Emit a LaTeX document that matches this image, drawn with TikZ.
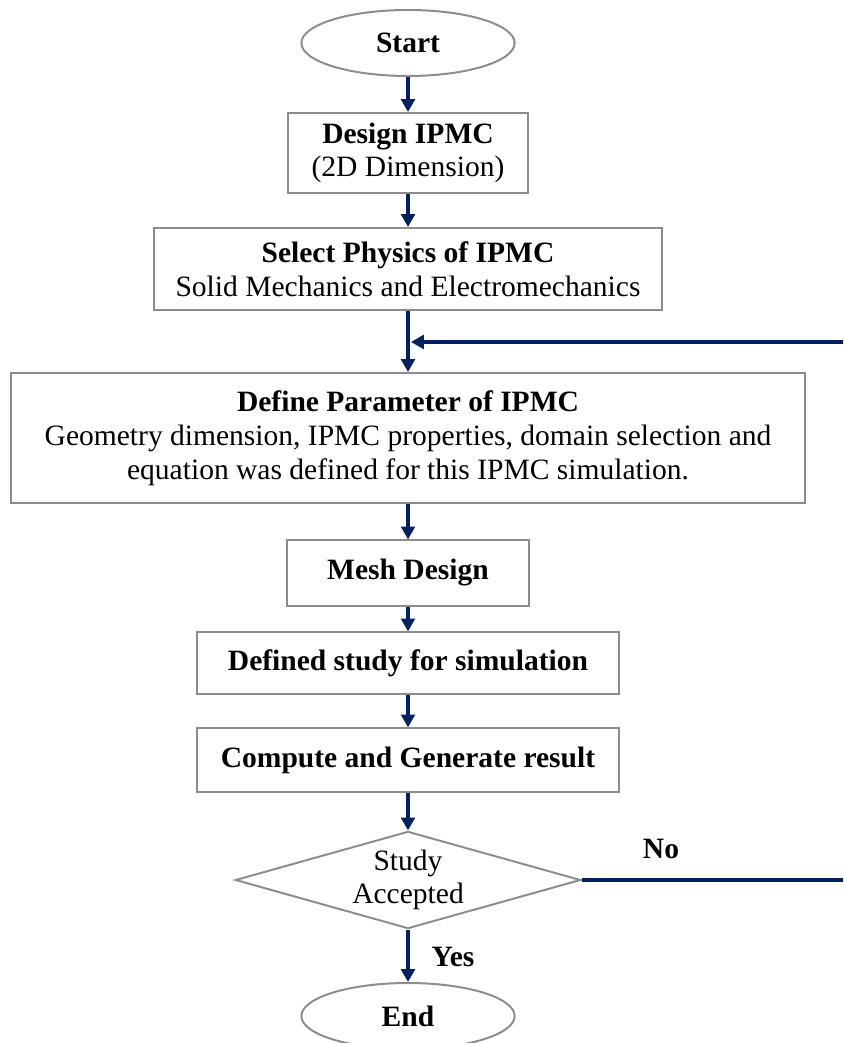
\documentclass[tikz,border=0pt]{standalone}
\usepackage{fontspec}
\setmainfont{Liberation Serif}
\usepackage{xcolor}
\usetikzlibrary{arrows.meta,positioning,shapes.geometric}
\definecolor{flownavy}{HTML}{002060}
\definecolor{framegray}{HTML}{8C8C8C}
\newcommand{\chartfont}{\fontsize{21}{24}\selectfont}

\begin{document}
\begin{tikzpicture}[
    x=0.025cm,y=-0.025cm,
    >={Triangle[length=3.2mm,width=3.4mm]},
    flow/.style={->,line width=2.3pt,draw=flownavy},
    terminal/.style={ellipse,draw=framegray,line width=1.4pt,
      minimum width=5.33cm,minimum height=1.65cm,inner sep=0pt,
      font=\chartfont\bfseries},
    process/.style={draw=framegray,line width=1.4pt,inner sep=0pt,
      align=center,font=\chartfont},
    decision/.style={diamond,draw=framegray,line width=1.4pt,aspect=3.56,
      inner sep=0pt,minimum width=8.63cm,minimum height=2.43cm,
      align=center,font=\chartfont},
    answer/.style={font=\chartfont\bfseries}
  ]
    \useasboundingbox (0,0) rectangle (843,1043);
    \clip (0,0) rectangle (843,1043);

    % Set-up of the IPMC model.
    \node[terminal] (start) at (408,43) {Start};
    \node[process,minimum width=6cm,minimum height=2cm] (design) at (408,153)
      {\textbf{Design IPMC}\\(2D Dimension)};
    \node[process,minimum width=12.7cm,minimum height=2.05cm] (physics) at (408,269)
      {\textbf{Select Physics of IPMC}\\Solid Mechanics and Electromechanics};
    \node[process,minimum width=19.83cm,minimum height=3.25cm] (params) at (408,438)
      {\textbf{Define Parameter of IPMC}\\
       Geometry dimension, IPMC properties, domain selection and\\
       equation was defined for this IPMC simulation.};

    % Simulation steps.
    \node[process,minimum width=6.05cm,minimum height=1.63cm] (mesh) at (408,573)
      {\textbf{Mesh Design}};
    \node[process,minimum width=10.55cm,minimum height=1.53cm] (study) at (408,663)
      {\textbf{Defined study for simulation}};
    \node[process,minimum width=10.55cm,minimum height=1.58cm] (compute) at (408,760)
      {\textbf{Compute and Generate result}};
    \node[decision] (check) at (408,880) {Study\\Accepted};
    \node[terminal] (finish) at (408,1016) {End};

    \draw[flow] (start) -- (design);
    \draw[flow] (design) -- (physics);
    \draw[flow] (physics) -- (params);
    \draw[flow] (params) -- (mesh);
    \draw[flow] (mesh) -- (study);
    \draw[flow] (study) -- (compute);
    \draw[flow] (compute) -- (check);
    \draw[flow] (check) -- (finish);
    \node[answer] (yes) at (453,957) {Yes};

    % Loop back when the study is not accepted.
    \coordinate (loopback) at (870,880);
    \coordinate (merge) at (411,342);
    \draw[flow] (check.east) -- (loopback) |- (merge);
    \node[answer] (no) at (661,849) {No};
  \end{tikzpicture}
\end{document}
